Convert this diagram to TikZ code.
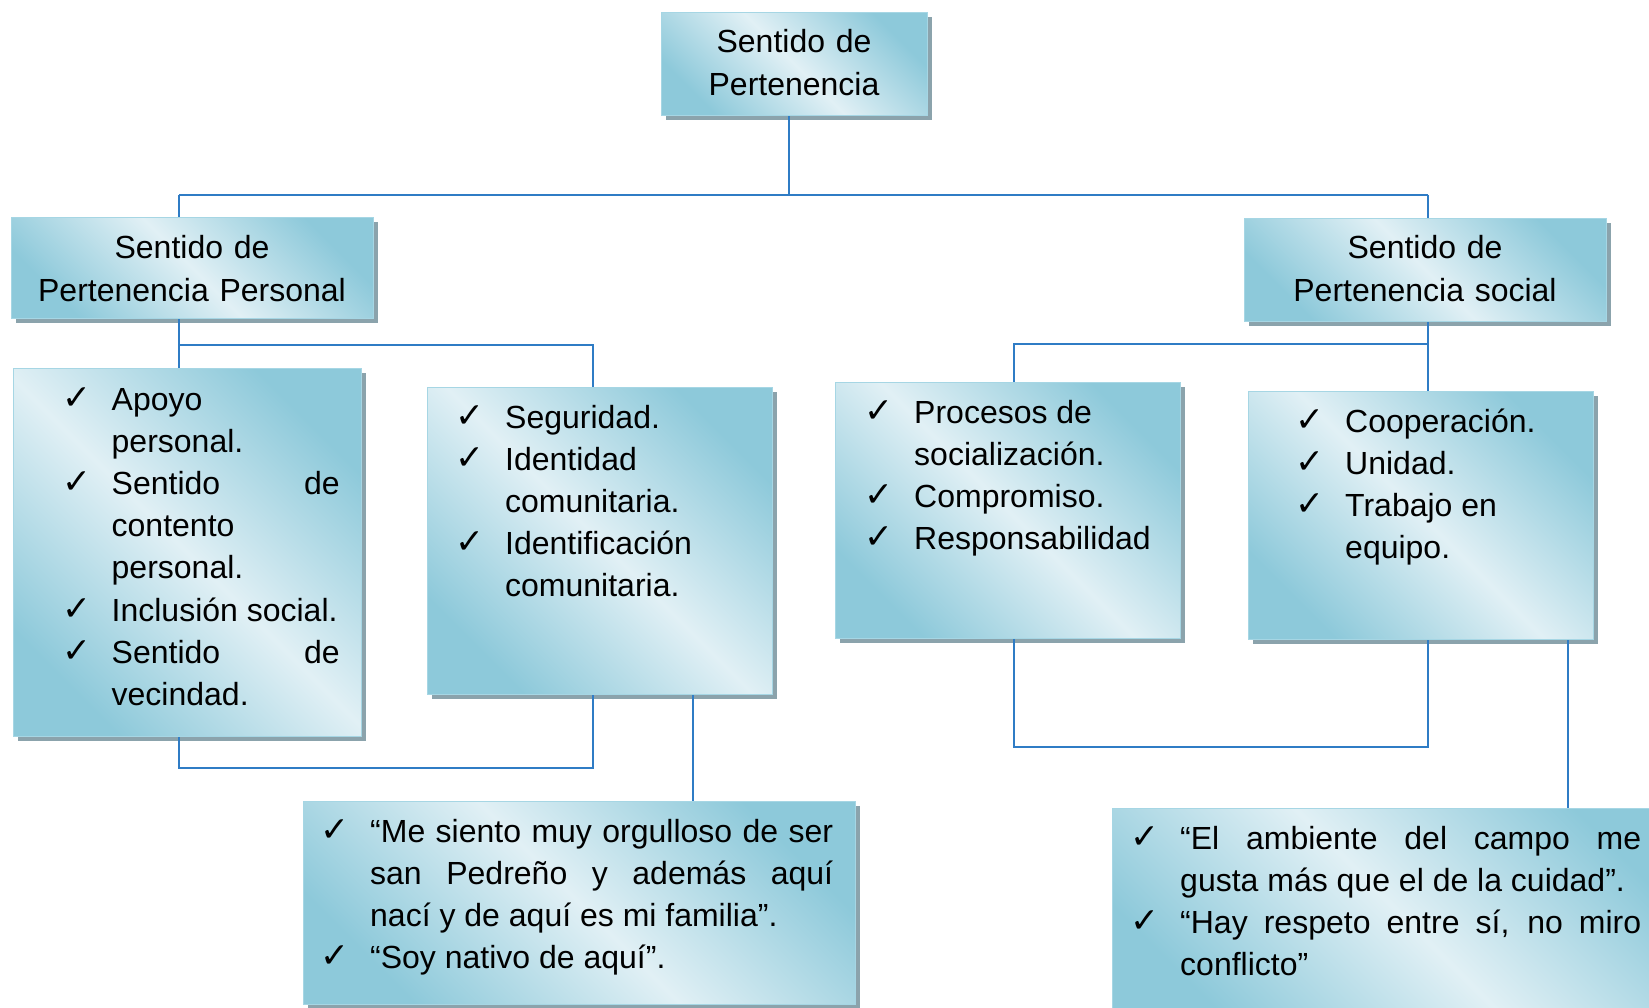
\documentclass[tikz,border=0pt]{standalone}
\usepackage{fontspec}
\setmainfont{Liberation Sans}[Ligatures=NoCommon]
\newfontfamily\djv{DejaVu Sans}
\usepackage{graphicx}
\usetikzlibrary{shadows}
\definecolor{dk}{HTML}{8DC9DA}
\definecolor{lt}{HTML}{E1F0F5}
\definecolor{edgec}{HTML}{A6D6E4}
\definecolor{shc}{HTML}{8BA3AC}
\definecolor{linec}{HTML}{2F7CC5}
\newcommand\ckm{\leavevmode\llap{\raisebox{1pt}{\resizebox{29pt}{!}{\djv ✓}}\hspace{20.5pt}}}
\newcommand\jl[1]{\leavevmode\hbox to\linewidth{\spaceskip=\fontdimen2\font plus 1fil\relax #1}}
\newcommand\rs{\spaceskip=0pt \xspaceskip=0pt \hyphenpenalty=10000 \exhyphenpenalty=10000 }
\begin{document}
\begin{tikzpicture}[x=1pt,y=-1pt,
 box/.style={anchor=north west, inner sep=0pt, draw=edgec, line width=1.2pt,
   top color=dk, bottom color=dk, middle color=lt, shading angle=-45,
   drop shadow={shadow xshift=4pt, shadow yshift=-4pt, fill=shc, opacity=1}},
 txt/.style={anchor=base west, inner sep=0pt, align=left, font=\fontsize{32pt}{42.2pt}\selectfont},
 ctxt/.style={anchor=base, inner sep=0pt, align=center, text width=360pt, font=\fontsize{32pt}{42.2pt}\selectfont},
 conn/.style={draw=linec, line width=2pt}]
\useasboundingbox (0,0) rectangle (1649,1008);
\clip (0,0) rectangle (1649,1008);
\fill[white] (0,0) rectangle (1649,1008);

% boxes
\node[box, minimum width=266pt, minimum height=103pt] (T) at (661,12) {};
\node[box, minimum width=362pt, minimum height=101pt] (P) at (11,217) {};
\node[box, minimum width=362pt, minimum height=103pt] (S) at (1244,218) {};
\node[box, minimum width=348pt, minimum height=368pt] (B1) at (13,368) {};
\node[box, minimum width=345pt, minimum height=307pt] (B2) at (427,387) {};
\node[box, minimum width=345pt, minimum height=256pt] (B3) at (835,382) {};
\node[box, minimum width=345pt, minimum height=248pt] (B4) at (1248,391) {};
\node[box, minimum width=552pt, minimum height=203pt] (Q1) at (303,801) {};
\node[box, minimum width=580pt, minimum height=215pt] (Q2) at (1112,808) {};

% texts
\node[ctxt] (tT) at (794,53) {Sentido de\\Pertenencia};
\node[ctxt] (tP) at (192,259) {Sentido de\\Pertenencia Personal};
\node[ctxt] (tS) at (1425,259) {Sentido de\\Pertenencia social};
\node[txt, text width=228pt] (t1) at (111.5,410) {\rs\ckm Apoyo\\ personal.\\ \ckm\jl{Sentido de}\\ contento\\ personal.\\ \ckm Inclusión social.\\ \ckm\jl{Sentido de}\\ vecindad.};
\node[txt, text width=250pt] (t2) at (505,428) {\rs\ckm Seguridad.\\ \ckm Identidad\\ comunitaria.\\ \ckm Identificación\\ comunitaria.};
\node[txt, text width=250pt] (t3) at (914,423) {\rs\ckm Procesos de\\ socialización.\\ \ckm Compromiso.\\ \ckm Responsabilidad};
\node[txt, text width=230pt] (t4) at (1345,432) {\rs\ckm Cooperación.\\ \ckm Unidad.\\ \ckm Trabajo en\\ equipo.};
\node[txt, text width=463pt] (tq1) at (370,842) {\rs\ckm\jl{“Me siento muy orgulloso de ser}\\ \jl{san Pedreño y además aquí}\\ nací y de aquí es mi familia”.\\ \ckm “Soy nativo de aquí”.};
\node[txt, text width=461pt] (tq2) at (1180,849) {\rs\ckm\jl{“El ambiente del campo me}\\ gusta más que el de la cuidad”.\\ \ckm\jl{“Hay respeto entre sí, no miro}\\ conflicto”};

% connectors
\coordinate (busT) at (789,195);
\coordinate (busL) at (179,195);
\coordinate (busR) at (1428,195);
\coordinate (jL) at (179,345);
\coordinate (jL2) at (593,345);
\coordinate (jR) at (1428,344);
\coordinate (jR2) at (1014,344);
\coordinate (kL) at (179,768);
\coordinate (kL2) at (593,768);
\coordinate (kR) at (1014,747);
\coordinate (kR2) at (1428,747);
\coordinate (q1x) at (693,801);
\coordinate (q2x) at (1568,808);

\draw[conn] (T.south -| busT) -- (busT);
\draw[conn] (busL) -- (busR);
\draw[conn] (busL) -- (P.north -| busL);
\draw[conn] (busR) -- (S.north -| busR);
\draw[conn] (P.south -| jL) -- (B1.north -| jL);
\draw[conn] (jL) -- (jL2) -- (B2.north -| jL2);
\draw[conn] (S.south -| jR) -- (B4.north -| jR);
\draw[conn] (jR) -- (jR2) -- (B3.north -| jR2);
\draw[conn] (B1.south -| kL) -- (kL) -- (kL2) -- (B2.south -| kL2);
\draw[conn] (B2.south -| q1x) -- (Q1.north -| q1x);
\draw[conn] (B3.south -| kR) -- (kR) -- (kR2) -- (B4.south -| kR2);
\draw[conn] (B4.south -| q2x) -- (Q2.north -| q2x);
\end{tikzpicture}
\end{document}
